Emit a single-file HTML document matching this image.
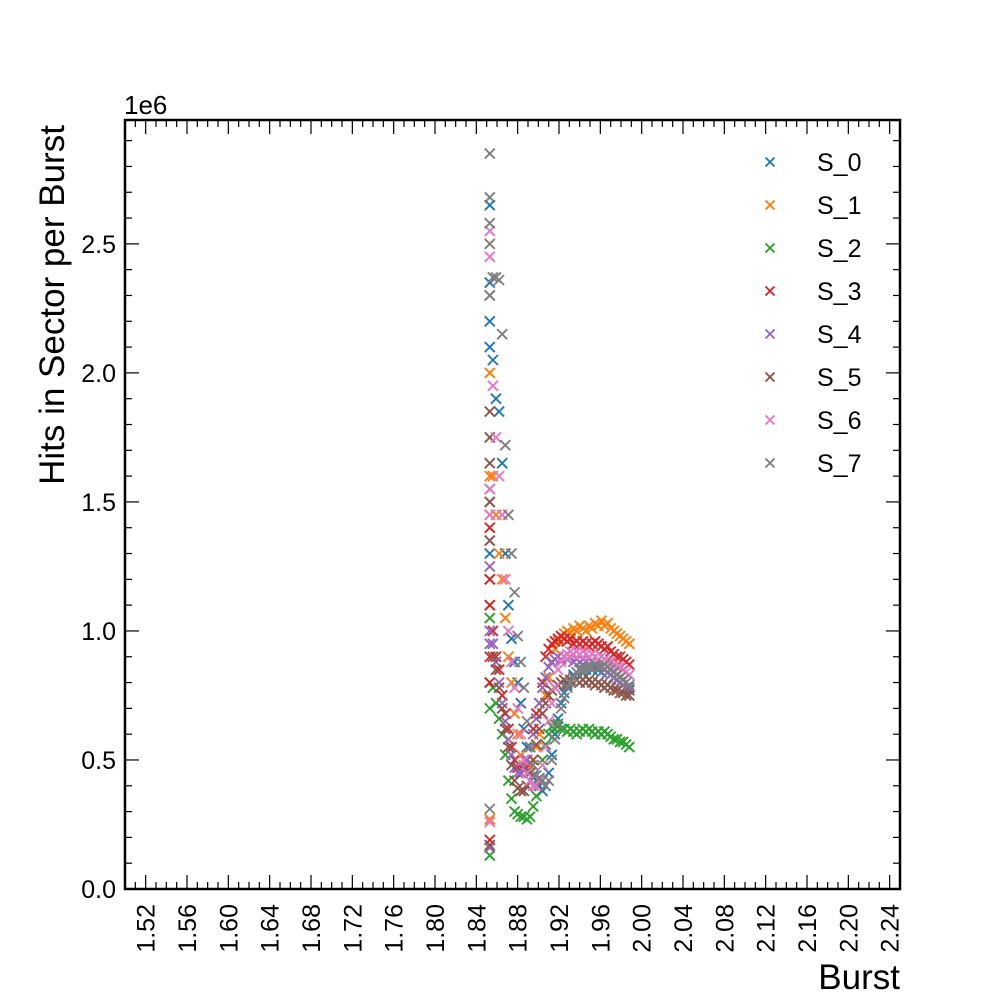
<!DOCTYPE html>
<html><head><meta charset="utf-8"><style>
body{margin:0;background:#fff}
svg text{font-family:"Liberation Sans","DejaVu Sans",sans-serif}
</style></head><body>
<svg id="c" width="1000" height="1000" viewBox="0 0 1000 1000"></svg>
<script>
const seriesNames=["S_0","S_1","S_2","S_3","S_4","S_5","S_6","S_7"];
const colors=["#1f77b4","#ff7f0e","#2ca02c","#d62728","#9467bd","#8c564b","#e377c2","#7f7f7f"];
const xTicks=[1.52,1.56,1.60,1.64,1.68,1.72,1.76,1.80,1.84,1.88,1.92,1.96,2.00,2.04,2.08,2.12,2.16,2.20,2.24];
const yTicks=[0,0.5,1.0,1.5,2.0,2.5];
const xs=[1.853,1.853,1.853,1.853,1.853,1.853,
1.856,1.859,1.862,1.865,1.868,1.871,1.874,1.877,1.880,1.883,1.886,1.889,1.892,1.895,1.898,1.901,1.904,1.907,1.910,1.913,1.916,1.919,1.922,1.925,1.928,1.931,1.934,1.937,1.940,1.943,1.946,1.949,1.952,1.955,1.958,1.961,1.964,1.967,1.970,1.973,1.976,1.979,1.982,1.985,1.988];
const s0=[2.65,2.35,2.2,2.1,1.55,1.3,
2.05,1.90,1.85,1.65,1.30,1.10,0.97,0.88,0.80,0.72,0.62,0.55,0.48,0.44,0.42,0.40,0.38,0.40,0.45,0.52,0.60,0.66,0.72,0.76,0.79,0.81,0.83,0.84,0.85,0.84,0.85,0.86,0.85,0.86,0.85,0.84,0.85,0.84,0.83,0.82,0.81,0.80,0.79,0.78,0.77];
const s1=[2.5,2.3,2.0,1.6,1.45,0.27,
1.60,1.45,1.30,1.20,1.05,0.90,0.80,0.68,0.60,0.52,0.48,0.47,0.48,0.50,0.55,0.60,0.68,0.75,0.82,0.88,0.93,0.96,0.98,0.99,1.00,0.99,1.01,1.00,1.02,1.01,1.00,1.02,1.01,1.03,1.02,1.04,1.02,1.03,1.01,1.00,0.99,0.98,0.97,0.96,0.95];
const s2=[1.2,1.1,1.05,0.8,0.7,0.13,
0.78,0.72,0.66,0.60,0.52,0.42,0.35,0.30,0.29,0.28,0.28,0.27,0.28,0.32,0.36,0.42,0.50,0.56,0.60,0.63,0.64,0.63,0.62,0.62,0.61,0.62,0.61,0.60,0.61,0.62,0.61,0.62,0.61,0.60,0.61,0.60,0.61,0.60,0.59,0.58,0.58,0.57,0.57,0.56,0.55];
const s3=[1.4,1.2,1.1,0.9,0.8,0.19,
1.00,0.90,0.85,0.75,0.68,0.62,0.55,0.50,0.47,0.45,0.46,0.50,0.55,0.62,0.68,0.72,0.80,0.90,0.93,0.95,0.96,0.97,0.98,0.97,0.96,0.97,0.95,0.96,0.95,0.96,0.95,0.94,0.95,0.96,0.95,0.94,0.93,0.94,0.92,0.91,0.90,0.90,0.89,0.88,0.87];
const s4=[1.5,1.35,1.25,1.0,0.95,0.16,
0.95,0.88,0.80,0.72,0.65,0.58,0.52,0.47,0.45,0.45,0.47,0.50,0.55,0.60,0.66,0.72,0.78,0.82,0.86,0.88,0.89,0.90,0.89,0.90,0.89,0.90,0.88,0.89,0.88,0.89,0.88,0.87,0.88,0.87,0.86,0.86,0.85,0.84,0.83,0.82,0.81,0.80,0.79,0.78,0.78];
const s5=[1.85,1.75,1.65,1.5,1.35,0.17,
0.90,0.85,0.78,0.70,0.62,0.55,0.48,0.42,0.39,0.38,0.38,0.40,0.45,0.50,0.56,0.62,0.68,0.72,0.75,0.77,0.78,0.79,0.80,0.81,0.80,0.81,0.82,0.81,0.80,0.81,0.80,0.81,0.80,0.79,0.80,0.79,0.78,0.79,0.78,0.77,0.77,0.76,0.76,0.75,0.75];
const s6=[2.55,2.45,2.3,1.55,1.45,0.26,
1.95,1.75,1.60,1.45,1.20,1.00,0.88,0.78,0.70,0.60,0.50,0.45,0.42,0.40,0.40,0.42,0.48,0.55,0.65,0.72,0.78,0.85,0.88,0.90,0.91,0.92,0.91,0.92,0.91,0.92,0.91,0.90,0.91,0.90,0.89,0.90,0.89,0.88,0.88,0.87,0.86,0.86,0.85,0.84,0.83];
const s7=[2.85,2.68,2.58,2.5,2.3,0.31,
2.37,2.37,2.36,2.15,1.72,1.45,1.30,1.15,0.98,0.88,0.78,0.65,0.55,0.48,0.44,0.43,0.42,0.40,0.42,0.50,0.58,0.64,0.70,0.74,0.78,0.80,0.82,0.84,0.85,0.85,0.86,0.86,0.86,0.87,0.86,0.86,0.87,0.86,0.85,0.84,0.83,0.82,0.81,0.80,0.79];
const allSeries=[s0,s1,s2,s3,s4,s5,s6,s7];

const L=125,R=900,T=120,B=889,X0=1.5,X1=2.25,Y0=0,Y1=2.98;
const sx=v=>L+(v-X0)/(X1-X0)*(R-L);
const sy=v=>B-(v-Y0)/(Y1-Y0)*(B-T);
const svg=document.getElementById('c');
const NS='http://www.w3.org/2000/svg';
function mk(tag,attrs,parent){const e=document.createElementNS(NS,tag);for(const k in attrs)e.setAttribute(k,attrs[k]);(parent||svg).appendChild(e);return e;}
function cross(g,cx,cy,col,s){mk('path',{d:`M${cx-s},${cy-s}L${cx+s},${cy+s}M${cx-s},${cy+s}L${cx+s},${cy-s}`,stroke:col,'stroke-width':1.9,fill:'none'},g);}

allSeries.forEach((vals,i)=>{
  const g=mk('g',{});
  
  
  vals.forEach((v,j)=>cross(g,sx(xs[j]),sy(v),colors[i],5));
});

const frame=mk('rect',{x:L,y:T,width:R-L,height:B-T,fill:'none',stroke:'#000','stroke-width':2.5});



const xg=mk('g',{});


for(let k=150;k<=225;k++){
  const v=k/100,px=sx(v),major=(k%4===0);
  const len=major?14:7;
  mk('line',{x1:px,y1:B,x2:px,y2:B-len,stroke:'#000','stroke-width':1.2},xg);
  mk('line',{x1:px,y1:T,x2:px,y2:T+len,stroke:'#000','stroke-width':1.2},xg);
}
xTicks.forEach(v=>{
  const px=sx(v);
  const t=mk('text',{x:0,y:0,transform:`translate(${px+9},${904}) rotate(-90)`,'text-anchor':'end','font-size':25},xg);
  t.textContent=v.toFixed(2);
});
const yg=mk('g',{});


for(let k=0;k<=29;k++){
  const v=k/10,py=sy(v),major=(k%5===0);
  const len=major?14:7;
  mk('line',{x1:L,y1:py,x2:L+len,y2:py,stroke:'#000','stroke-width':1.2},yg);
  mk('line',{x1:R,y1:py,x2:R-len,y2:py,stroke:'#000','stroke-width':1.2},yg);
}
yTicks.forEach(v=>{
  const t=mk('text',{x:L-9,y:sy(v)+9,'text-anchor':'end','font-size':25},yg);
  t.textContent=v.toFixed(1);
});
const off=mk('text',{x:124,y:114,'font-size':26},yg);
off.textContent='1e6';

const yl=mk('text',{transform:'translate(64,305) rotate(-90)','text-anchor':'middle','font-size':35});
yl.textContent='Hits in Sector per Burst';


const xl=mk('text',{x:900,y:989,'text-anchor':'end','font-size':35});
xl.textContent='Burst';



const lg=mk('g',{});


seriesNames.forEach((n,i)=>{
  const e=mk('g',{},lg);
  
  
  const y=162+i*43;
  cross(e,770,y,colors[i],4.5);
  const t=mk('text',{x:817,y:y+9,'font-size':25},e);
  t.textContent=n;
});
</script>
</body></html>
